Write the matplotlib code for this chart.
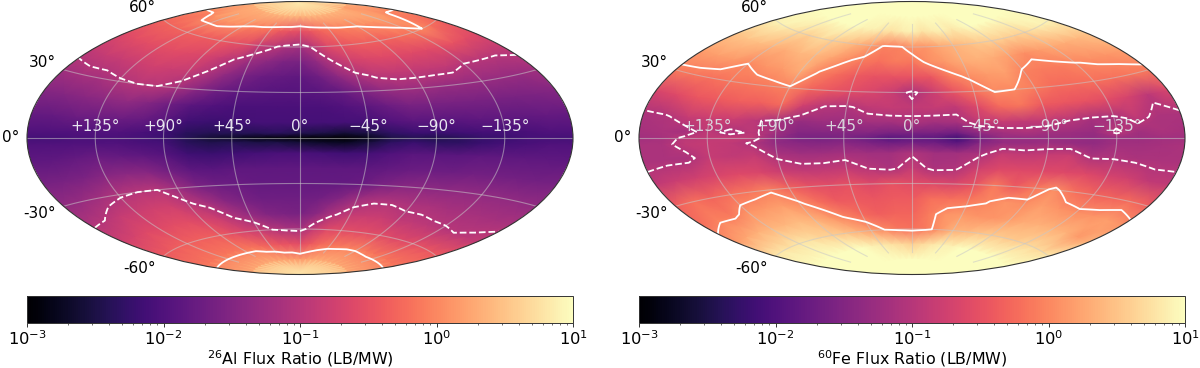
import numpy as np
import matplotlib
matplotlib.use('Agg')
import matplotlib.pyplot as plt
from matplotlib.colors import LogNorm
from matplotlib.cm import ScalarMappable

# Sampled sky values, log10 of the flux ratio; columns are screen longitude -180..180
lon_deg = [-180,-165,-150,-135,-120,-105,-90,-75,-60,-45,-30,-15,0,15,30,45,60,75,90,105,120,135,150,165,180]
lat_deg = [90,80,70,60,50,40,30,20,10,3,0,-3,-10,-20,-30,-40,-50,-60,-70,-80,-90]

al_log = [
[1.0]*25,
[.35,.35,.35,.35,.35,.35,.4,.4,.4,.4,.4,.4,.35,.4,.4,.4,.4,.4,.4,.4,.4,.3,.2,.3,.35],
[0,-.05,.1,.1,.1,.05,0,-.1,-.15,-.25,-.4,-.5,-.55,-.45,-.3,-.2,-.1,-.05,0,.05,.1,.2,.15,-.05,0],
[-.3,-.3,-.3,-.35,-.35,-.4,-.4,-.5,-.55,-.8,-.95,-1.1,-1.2,-.95,-.6,-.5,-.4,-.35,-.35,-.3,-.2,-.15,0,-.2,-.3],
[-.6,-.55,-.55,-.55,-.55,-.6,-.65,-.8,-1.0,-1.25,-1.4,-1.55,-1.6,-1.35,-1.0,-.75,-.65,-.6,-.6,-.6,-.6,-.55,-.5,-.55,-.6],
[-.9,-.85,-.85,-.8,-.75,-.8,-.85,-1.05,-1.35,-1.6,-1.75,-1.8,-1.85,-1.7,-1.4,-1.1,-.95,-.9,-.9,-.9,-.9,-1,-1,-1,-.95],
[-1.2,-1.15,-1.15,-1.05,-1,-1,-1.15,-1.45,-1.7,-1.85,-1.9,-1.95,-1.95,-1.9,-1.8,-1.55,-1.35,-1.25,-1.25,-1.3,-1.3,-1.3,-1.3,-1.3,-1.2],
[-1.5,-1.5,-1.45,-1.4,-1.35,-1.5,-1.7,-1.9,-2,-2.05,-2.05,-2.05,-2.05,-2.05,-2,-1.9,-1.75,-1.6,-1.6,-1.6,-1.6,-1.6,-1.6,-1.55,-1.5],
[-1.8,-1.8,-1.75,-1.75,-1.75,-1.8,-1.95,-2.15,-2.2,-2.15,-2.1,-2.1,-2.1,-2.1,-2.1,-2.1,-2,-1.9,-1.9,-1.9,-1.85,-1.85,-1.85,-1.8,-1.8],
[-2,-2,-2,-2,-2,-2.05,-2.15,-2.35,-2.4,-2.4,-2.4,-2.35,-2.45,-2.5,-2.6,-2.5,-2.3,-2.2,-2.2,-2.15,-2.1,-2.1,-2.05,-2,-2],
[-2.1,-2.1,-2.05,-2.05,-2.05,-2.1,-2.2,-2.4,-2.6,-2.7,-2.85,-2.9,-2.95,-2.95,-3,-2.8,-2.5,-2.4,-2.45,-2.35,-2.25,-2.2,-2.1,-2.1,-2.1],
[-2,-2,-2,-2,-2,-2.05,-2.1,-2.35,-2.45,-2.4,-2.5,-2.5,-2.6,-2.7,-2.75,-2.55,-2.3,-2.2,-2.3,-2.3,-2.2,-2.1,-2.05,-2,-2],
[-1.85,-1.85,-1.8,-1.75,-1.8,-1.85,-1.95,-2.15,-2.2,-2.15,-2.1,-2.05,-2.05,-2.1,-2.15,-2.1,-2,-1.9,-1.9,-1.9,-1.85,-1.85,-1.85,-1.85,-1.85],
[-1.6,-1.6,-1.55,-1.45,-1.4,-1.45,-1.65,-1.85,-1.9,-1.85,-1.85,-1.85,-1.85,-1.85,-1.85,-1.85,-1.8,-1.75,-1.7,-1.7,-1.65,-1.65,-1.65,-1.65,-1.6],
[-1.35,-1.3,-1.2,-1.05,-1,-1,-1.25,-1.55,-1.7,-1.75,-1.8,-1.8,-1.8,-1.8,-1.8,-1.75,-1.55,-1.45,-1.4,-1.4,-1.35,-1.35,-1.35,-1.35,-1.35],
[-1.05,-1,-.85,-.8,-.75,-.75,-.95,-1.15,-1.45,-1.6,-1.7,-1.7,-1.7,-1.65,-1.5,-1.2,-1.05,-1.05,-1.1,-1.1,-1.15,-1.15,-1.15,-1.15,-1.1],
[-.75,-.7,-.6,-.6,-.55,-.55,-.65,-.8,-1.05,-1.3,-1.5,-1.55,-1.6,-1.4,-1.05,-.85,-.8,-.8,-.9,-.92,-.95,-.97,-1,-.95,-.85],
[-.4,-.4,-.35,-.35,-.35,-.35,-.4,-.55,-.7,-.8,-1,-1.1,-1.15,-.85,-.6,-.55,-.55,-.55,-.55,-.6,-.6,-.55,-.5,-.45,-.4],
[-.15,-.15,-.15,-.15,-.15,-.15,-.15,-.15,-.25,-.35,-.45,-.5,-.55,-.4,-.25,-.15,-.1,-.05,-.05,-.1,-.15,-.15,-.15,-.15,-.15],
[.3,.3,.3,.3,.3,.3,.3,.3,.25,.25,.2,.2,.15,.2,.25,.3,.3,.3,.3,.3,.3,.3,.3,.3,.3],
[1.0]*25,
]

fe_log = [
[1.6]*25,
[1.5,1.5,1.5,1.45,1.4,1.4,1.4,1.35,1.3,1.3,1.3,1.3,1.35,1.3,1.3,1.3,1.35,1.4,1.4,1.4,1.45,1.5,1.5,1.5,1.5],
[1.3,1.3,1.2,1.1,1.0,1.0,1.0,.9,.9,.8,.75,.85,.9,.75,.85,.9,.8,.9,1.0,1.05,1.0,1.15,1.3,1.3,1.3],
[.9,.9,.8,.7,.6,.7,.6,.5,.35,.2,-.05,-.05,.1,.1,.25,.35,.45,.55,.6,.6,.6,.65,.8,.9,.9],
[.5,.5,.45,.35,.3,.4,.4,.25,.05,-.1,-.2,-.1,-.15,.05,.15,.3,.35,.3,.2,.05,.15,.25,.3,.4,.5],
[.2,.2,.15,0,.1,.15,.3,-.05,-.25,-.4,-.5,-.5,-.5,-.45,-.1,.05,.15,.2,-.05,-.1,-.1,-.02,.05,.1,.2],
[-.1,-.15,-.2,-.15,-.15,-.1,-.05,-.3,-.45,-.55,-.65,-.8,-1.1,-.8,-.5,-.2,.02,.0,-.1,-.25,-.25,-.2,-.2,-.15,-.1],
[-.7,-.6,-.45,-.4,-.35,-.35,-.25,-.75,-1,-1.05,-.9,-.85,-.9,-.85,-.9,-.6,-.25,-.15,-.4,-.45,-.5,-.55,-.7,-.95,-.7],
[-1.1,-1.05,-.85,-.8,-.8,-.95,-1.15,-1.3,-1.25,-1.25,-1.2,-1.2,-1.1,-1.2,-1.15,-.9,-.85,-.9,-.9,-1,-1.15,-1.15,-.9,-1.1,-1.1],
[-1.15,-1.1,-1.15,-.9,-1.1,-.95,-1.2,-1.5,-1.5,-1.5,-1.5,-1.6,-1.6,-1.6,-1.7,-1.35,-1.2,-1.1,-1.2,-1.25,-1.3,-.95,-1.2,-1.1,-1.15],
[-1.2,-1.15,-.95,-.9,-.85,-.9,-1.35,-1.55,-1.6,-1.55,-1.7,-1.9,-1.8,-1.85,-2.1,-1.6,-1.3,-1.3,-1.3,-1.3,-1.35,-1.25,-1.25,-1.2,-1.2],
[-1.1,-1.1,-.9,-.85,-.9,-1.05,-1.35,-1.45,-1.5,-1.45,-1.55,-1.7,-1.65,-1.7,-1.9,-1.5,-1.3,-1.3,-1.25,-1.3,-1.35,-1.2,-1.2,-1.15,-1.1],
[-1.1,-1.1,-1.1,-.85,-.9,-.85,-1.1,-1.2,-1.2,-1.15,-1.2,-1.2,-1.05,-1.2,-1.2,-1.1,-.85,-.9,-.85,-.8,-1.1,-1.05,-1.1,-1.1,-1.1],
[-.9,-.8,-.75,-.65,-.6,-.65,-.8,-.9,-.9,-.85,-1,-1.1,-.85,-1.1,-1.05,-.75,-.6,-.6,-.6,-.6,-.6,-.7,-.75,-.9,-.9],
[-.35,-.2,-.3,-.2,-.15,-.05,-.3,-.5,-.55,-.5,-.6,-.5,-.55,-.6,-.65,-.5,-.1,-.4,-.15,.05,-.2,-.3,-.3,-.25,-.35],
[-.2,-.05,-.1,.1,.15,.2,.05,-.2,-.4,-.4,-.45,-.4,-.4,-.2,-.2,-.15,-.02,.1,.05,.2,.1,.05,.1,.2,.1],
[.15,.25,.35,.4,.4,.45,.35,.15,-.05,-.25,-.35,-.3,-.3,-.1,.1,.15,.1,.1,.2,.3,.35,.35,.35,.15,.35],
[.8,.8,.75,.8,.75,.65,.6,.5,.35,.2,0,-.15,-.2,-.1,.1,.35,.4,.5,.55,.55,.55,.65,.7,.7,.8],
[1.3,1.3,1.25,1.2,1.15,1.05,1.05,1.0,.9,.85,.75,.7,.6,.7,.8,.9,.9,1.0,1.1,1.1,1.1,1.2,1.2,1.3,1.3],
[1.5,1.5,1.5,1.45,1.45,1.4,1.4,1.4,1.35,1.3,1.3,1.3,1.3,1.3,1.3,1.35,1.4,1.4,1.4,1.45,1.45,1.5,1.5,1.5,1.5],
[1.6]*25,
]

lon_ticks = [-135,-90,-45,0,45,90,135]
lon_labels = ['+135°','+90°','+45°','0°','\u221245°','\u221290°','\u2212135°']
lat_ticks = [-60,-30,0,30,60]
lat_labels = ['-60°','-30°','0°','30°','60°']
contour_levels = [0.1, 1.0]
cbar_labels = [r'$^{26}$Al Flux Ratio (LB/MW)', r'$^{60}$Fe Flux Ratio (LB/MW)']

W, H = 1200, 368
fig = plt.figure(figsize=(W/100, H/100), dpi=100)
norm = LogNorm(1e-3, 10)
lon_rad = np.radians(lon_deg)
lat_rad = np.radians(lat_deg)
FS_MAP = 11
FS_CB = 11.7
GREY = '#333333'

def panel(x0, grid, cbar_label, lon_color):
    ax = fig.add_axes([x0/W, 1-274.5/H, 546/W, 273/H], projection='aitoff')
    vals = 10.0**np.array(grid)
    ax.pcolormesh(lon_rad, lat_rad, vals, cmap='magma', norm=norm, shading='gouraud', rasterized=True)
    ax.contour(lon_rad, lat_rad, vals, levels=contour_levels, colors='white',
               linewidths=1.3, linestyles=['--', '-'])
    ax.set_xticks(np.radians(lon_ticks))
    ax.set_xticklabels(lon_labels, color=lon_color, fontsize=FS_MAP)
    ax.set_yticks(np.radians(lat_ticks))
    ax.set_yticklabels(lat_labels, fontsize=FS_MAP)
    ax.grid(True, color='#c8c8c8', alpha=0.55, lw=0.8)
    for s in ax.spines.values():
        s.set_linewidth(0.8)
        s.set_edgecolor(GREY)
    cax = fig.add_axes([x0/W, 1-323/H, 546/W, 27/H])
    cb = fig.colorbar(ScalarMappable(norm=norm, cmap='magma'), cax=cax, orientation='horizontal')
    cb.ax.tick_params(labelsize=FS_CB, which='major', length=3, width=0.7, pad=1.5, color=GREY)
    cb.ax.tick_params(which='minor', length=1.7, width=0.5, color=GREY)
    cb.outline.set_linewidth(0.7)
    cb.outline.set_edgecolor(GREY)
    cb.set_label(cbar_label, fontsize=FS_MAP+0.4, labelpad=0)
    return ax

panel(27, al_log, cbar_labels[0], '#e8e6f0')
panel(639, fe_log, cbar_labels[1], '#d8d4dc')
fig.savefig('out.png', dpi=100)
